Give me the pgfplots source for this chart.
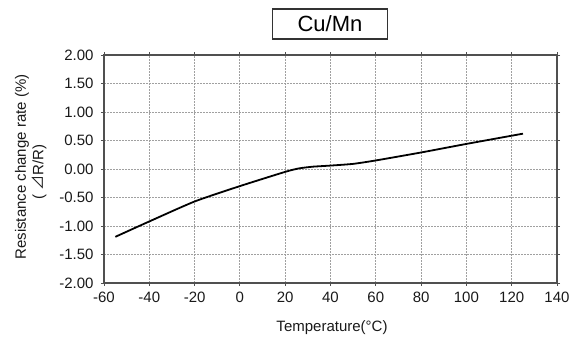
\documentclass[border=0pt]{standalone}
\usepackage{pgfplots}
\pgfplotsset{compat=1.18}
\usepackage{fontspec}
\setmainfont{Liberation Sans}
\newfontfamily\cjk{Noto Sans CJK JP}
\definecolor{axgray}{HTML}{505050}
\definecolor{grd}{HTML}{A0A0A0}
\begin{document}
\begin{tikzpicture}
\begin{axis}[
  at={(0pt,0pt)}, anchor=south west,
  scale only axis, width=453pt, height=228pt,
  xmin=-60, xmax=140, ymin=-2, ymax=2,
  xtick={-60,-40,...,140},
  ytick={-2,-1.5,...,2},
  yticklabel style={/pgf/number format/fixed, /pgf/number format/fixed zerofill, /pgf/number format/precision=2},
  /pgf/number format/assume math mode=true,
  ticklabel style={font=\fontsize{15}{17}\selectfont, text=black!90},
  xticklabel style={yshift=-2pt},
  yticklabel style={xshift=-4pt},
  tick align=outside, major tick length=3pt,
  tick style={axgray, line width=0.8pt},
  axis line style={axgray, line width=1.5pt},
  grid=major,
  major grid style={grd, line width=1pt, dash pattern=on 1.6pt off 1.4pt},
  clip=false,
]
\addplot[black, line width=1.8pt, smooth, tension=0.35] coordinates {
(-55,-1.19) (-40,-0.92) (-20,-0.57) (0,-0.30) (20,-0.05) (26,0.01) (32,0.04) (40,0.06) (50,0.09) (60,0.15) (80,0.29) (100,0.44) (125,0.62)
};
\end{axis}
\node[draw=black!80, line width=1.3pt, minimum width=115pt, minimum height=30pt, inner sep=0pt,
  font=\fontsize{22}{24}\selectfont] at (226pt,259pt) {Cu/Mn};
\node[font=\fontsize{15}{17}\selectfont, text=black!90] at (228pt,-45pt) {Temperature(°C)};
\node[rotate=90, font=\fontsize{15}{17}\selectfont, text=black!90] at (-82pt,116pt) {Resistance change rate (\%)};
\node[rotate=90, font=\fontsize{15}{17}\selectfont, text=black!90] at (-65pt,111pt) {( {\cjk ⊿}R/R)};
\pgfresetboundingbox
\useasboundingbox (-104pt,-60pt) rectangle (467pt,283pt);
\end{tikzpicture}
\end{document}
